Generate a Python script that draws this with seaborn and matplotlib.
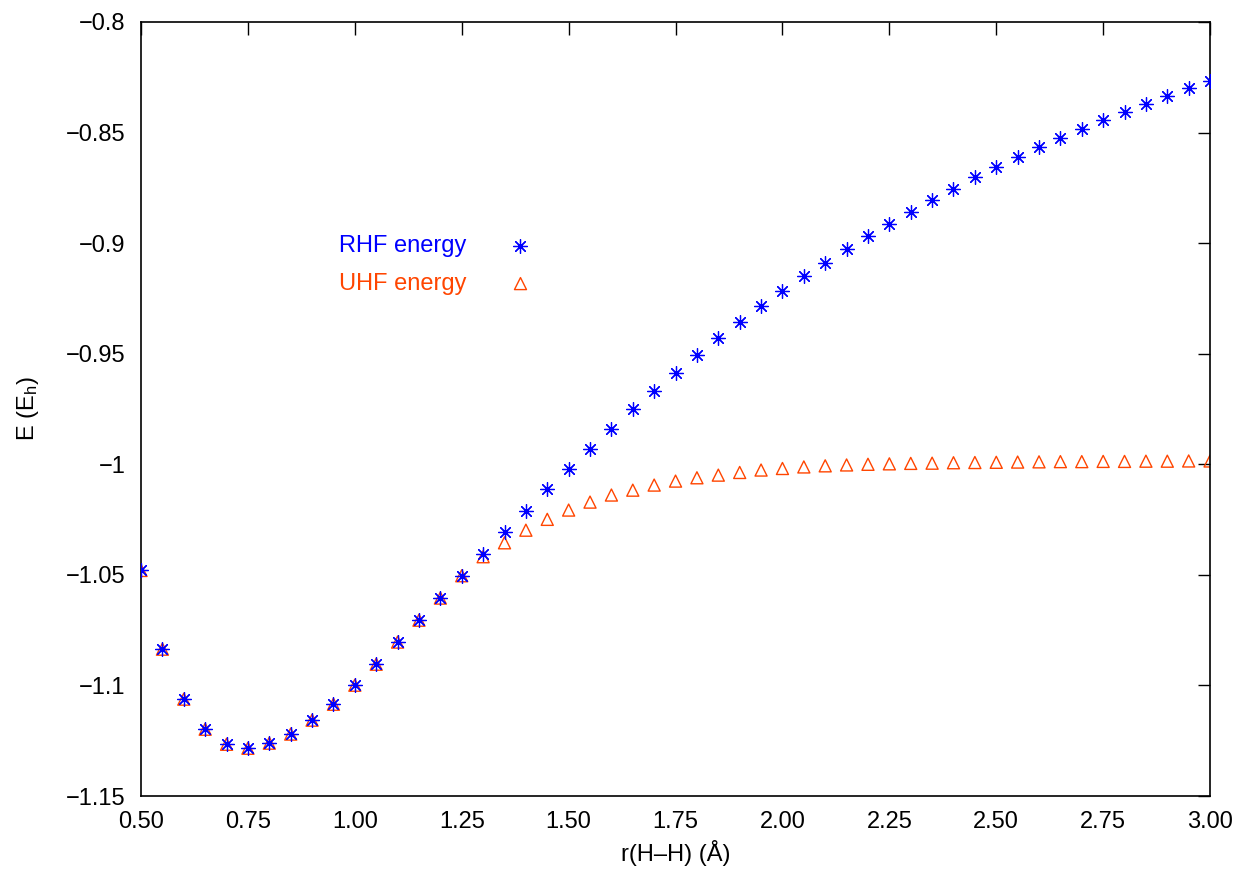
import numpy as np
import pandas as pd
import matplotlib
matplotlib.use("Agg")
import matplotlib.pyplot as plt
import seaborn as sns

# bond length r(H-H) in Angstrom
r_hh = [0.50, 0.55, 0.60, 0.65, 0.70, 0.75, 0.80, 0.85, 0.90, 0.95,
        1.00, 1.05, 1.10, 1.15, 1.20, 1.25, 1.30, 1.35, 1.40, 1.45,
        1.50, 1.55, 1.60, 1.65, 1.70, 1.75, 1.80, 1.85, 1.90, 1.95,
        2.00, 2.05, 2.10, 2.15, 2.20, 2.25, 2.30, 2.35, 2.40, 2.45,
        2.50, 2.55, 2.60, 2.65, 2.70, 2.75, 2.80, 2.85, 2.90, 2.95, 3.00]

# energies in hartree
rhf_energy = [-1.0480, -1.0836, -1.1062, -1.1198, -1.1266, -1.1284, -1.1261, -1.1220, -1.1157, -1.1085,
              -1.0999, -1.0904, -1.0804, -1.0705, -1.0605, -1.0504, -1.0406, -1.0308, -1.0212, -1.0112,
              -1.0020, -0.9930, -0.9840, -0.9752, -0.9668, -0.9588, -0.9506, -0.9429, -0.9357, -0.9285,
              -0.9217, -0.9149, -0.9088, -0.9028, -0.8969, -0.8912, -0.8858, -0.8804, -0.8754, -0.8703,
              -0.8654, -0.8611, -0.8567, -0.8523, -0.8482, -0.8443, -0.8406, -0.8369, -0.8333, -0.8300, -0.8267]

uhf_energy = [-1.0480, -1.0836, -1.1062, -1.1198, -1.1266, -1.1284, -1.1261, -1.1220, -1.1157, -1.1085,
              -1.0999, -1.0904, -1.0804, -1.0705, -1.0605, -1.0504, -1.0418, -1.0355, -1.0298, -1.0249,
              -1.0207, -1.0171, -1.0139, -1.0117, -1.0094, -1.0076, -1.0061, -1.0049, -1.0037, -1.0026,
              -1.0019, -1.0012, -1.0007, -1.0003, -1.0000, -0.9998, -0.9996, -0.9995, -0.9993, -0.9992,
              -0.9991, -0.9990, -0.9989, -0.9988, -0.9988, -0.9987, -0.9987, -0.9986, -0.9986, -0.9985, -0.9985]

x_ticks = [0.50, 0.75, 1.00, 1.25, 1.50, 1.75, 2.00, 2.25, 2.50, 2.75, 3.00]
x_tick_labels = ["0.50", "0.75", "1.00", "1.25", "1.50", "1.75", "2.00", "2.25", "2.50", "2.75", "3.00"]
y_ticks = [-1.15, -1.1, -1.05, -1.0, -0.95, -0.9, -0.85, -0.8]
y_tick_labels = ["\u22121.15", "\u22121.1", "\u22121.05", "\u22121", "\u22120.95", "\u22120.9", "\u22120.85", "\u22120.8"]

RHF_COLOR = "#0000ff"
UHF_COLOR = "#ff4500"
FS = 17

sns.set_style("white")
plt.rcParams["font.family"] = ["Liberation Sans", "DejaVu Sans"]
plt.rcParams["mathtext.fontset"] = "custom"
plt.rcParams["mathtext.rm"] = "Liberation Sans"
plt.rcParams["mathtext.it"] = "Liberation Sans"
plt.rcParams["text.color"] = "black"
plt.rcParams["axes.labelcolor"] = "black"
plt.rcParams["xtick.color"] = "black"
plt.rcParams["ytick.color"] = "black"

df = pd.DataFrame({"r": r_hh, "rhf": rhf_energy, "uhf": uhf_energy})

fig = plt.figure(figsize=(12.34, 8.69), dpi=100)
ax = fig.add_axes([0.1143, 0.0840, 0.8663, 0.8907])

sns.scatterplot(data=df, x="r", y="rhf", ax=ax, marker=(8, 2, 0), s=100,
                color=RHF_COLOR, linewidth=0.9, label="RHF energy", zorder=3)
sns.scatterplot(data=df, x="r", y="uhf", ax=ax, marker="^", s=75,
                facecolor="none", edgecolor=UHF_COLOR, linewidth=1.0,
                label="UHF energy", zorder=2)

ax.set_xlim(0.5, 3.0)
ax.set_ylim(-1.15, -0.8)
ax.set_xticks(x_ticks)
ax.set_xticklabels(x_tick_labels)
ax.set_yticks(y_ticks)
ax.set_yticklabels(y_tick_labels)

ax.tick_params(axis="both", which="major", direction="in", length=9, width=1.0,
               labelsize=FS, top=True, right=True, color="black", labelcolor="black")
ax.tick_params(axis="x", pad=11)
ax.tick_params(axis="y", pad=11)
for side in ax.spines.values():
    side.set_visible(True)
    side.set_color("black")
    side.set_linewidth(1.2)

ax.set_xlabel("r(H\u2013H) (\u00c5)", fontsize=FS, labelpad=5)
ax.set_ylabel("E (E$_\\mathrm{h}$)", fontsize=FS, labelpad=18)

handles, labels = ax.get_legend_handles_labels()
ax.legend(handles, labels, loc="upper left", bbox_to_anchor=(0.165, 0.752),
          frameon=False, markerfirst=False, fontsize=FS,
          labelcolor=[RHF_COLOR, UHF_COLOR], handletextpad=1.8,
          labelspacing=0.66, handlelength=1.0)

fig.savefig("out.png", dpi=100)
